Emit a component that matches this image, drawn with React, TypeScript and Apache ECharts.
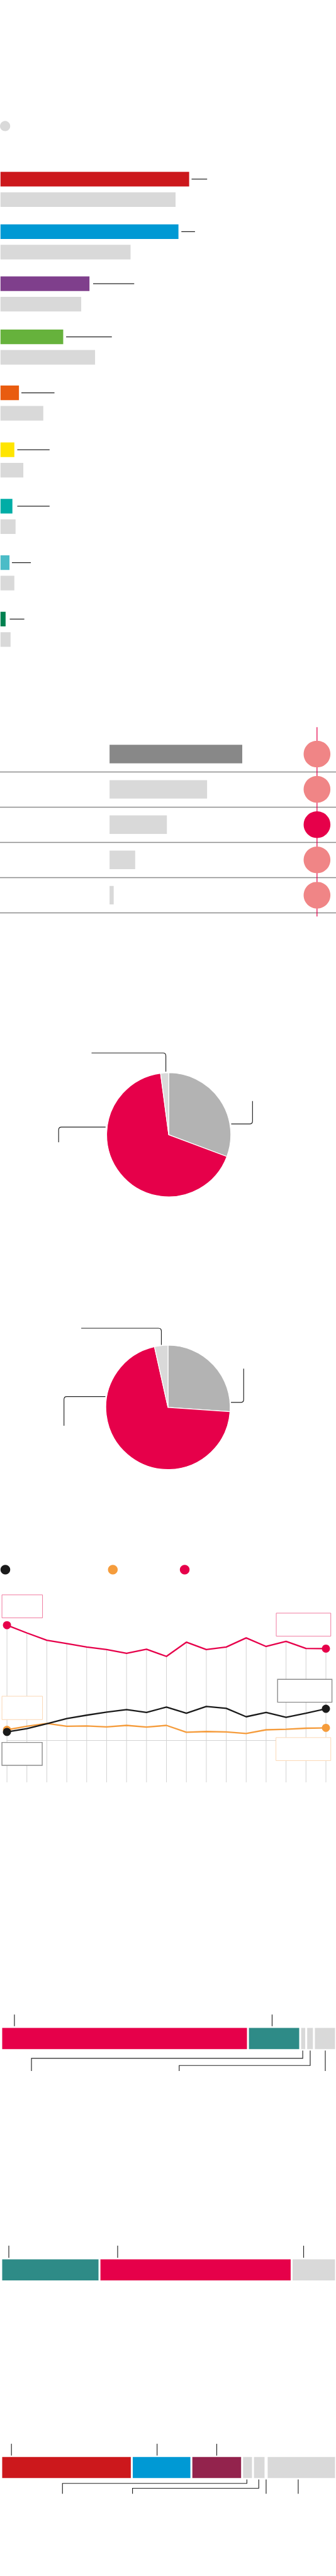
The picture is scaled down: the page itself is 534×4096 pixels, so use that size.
import React, { useEffect, useRef } from 'react';
import * as echarts from 'echarts';

const S = 534 / 690;
const sc = (v: number) => v * S;

// ---------- Section 1: party bars (current vs previous) ----------
const parties = ['Labour', 'Conservative', 'UKIP', 'Green', 'Lib Dem', 'SNP', 'Independent', 'Plaid', 'Other'];
const partyColors = ['#CC181C', '#0099D4', '#7F3F8C', '#66B23C', '#E95C0F', '#FFE500', '#00ADA6', '#4BBCC7', '#008150'];
const shareNow = [38.8, 36.6, 18.3, 12.9, 3.8, 2.85, 2.45, 1.85, 1.05];
const sharePrev = [36.0, 26.75, 16.6, 19.45, 8.8, 4.7, 3.1, 2.85, 2.07];
const noteFrom = [39.3, 37.2, 19.05, 13.5, 4.3, 3.45, 3.45, 2.35, 1.9];
const noteTo = [42.5, 40.0, 27.5, 22.9, 11.1, 10.1, 10.1, 6.25, 4.9];

// ---------- Section 2: table ----------
const tableRows = ['Row 1', 'Row 2', 'Row 3', 'Row 4', 'Row 5'];
const tableValues = [100, 73.5, 43.2, 19.3, 3.1];
const tableDark = [1, 0, 0, 0, 0];
const tableDotFlag = [0, 0, 1, 0, 0];

// ---------- Section 3: pies ----------
const pieNames = ['Grey', 'Crimson', 'Other'];
const pie1Values = [30.7, 67.2, 2.1];
const pie2Values = [26.1, 70.4, 3.5];

// ---------- Section 4: lines ----------
const years = ['1999', '2000', '2001', '2002', '2003', '2004', '2005', '2006', '2007', '2008', '2009', '2010', '2011', '2012', '2013', '2014', '2015'];
const redLine = [59.25, 55.25, 51.5, 49.8, 48.0, 46.7, 44.8, 46.9, 43.2, 50.5, 46.7, 48.0, 52.7, 48.3, 50.9, 47.3, 47.2];
const blackLine = [4.4, 6.1, 8.6, 11.3, 13.0, 14.6, 15.9, 14.4, 17.2, 14.0, 17.5, 16.5, 12.2, 14.4, 11.9, 14.0, 16.3];
const orangeLine = [5.5, 7.3, 8.75, 7.3, 7.5, 7.0, 7.75, 6.9, 7.75, 4.25, 4.6, 4.4, 3.6, 5.5, 5.8, 6.3, 6.5];

// ---------- Section 5: stacked bars ----------
const stack1Values = [73.7, 15.6, 1.8, 2.3, 6.6];
const stack2Values = [29.35, 57.4, 13.25];
const stack3Values = [39.0, 17.8, 15.15, 3.25, 3.75, 0.35, 20.7];

// ---------- styles ----------
const GREY = '#D9D9D9';
const CRIMSON = '#E6004A';
const SALMON = '#F08586';
const INK = '#222222';
const stack1Colors = [CRIMSON, '#2E8B87', GREY, GREY, GREY];
const stack2Colors = ['#2E8B87', CRIMSON, GREY];
const stack3Colors = ['#CC181C', '#0099D4', '#93234D', GREY, GREY, GREY, GREY];
const pieColors = ['#B3B3B3', CRIMSON, GREY];

// layout (original px)
const GROUP_TOPS = [353, 461, 568, 677, 792, 909, 1025, 1141, 1257];

function roundedD(pts: number[][], r: number): string {
  let d = `M${pts[0][0].toFixed(2)} ${pts[0][1].toFixed(2)}`;
  for (let i = 1; i < pts.length - 1; i++) {
    const [x0, y0] = pts[i - 1];
    const [cx, cy] = pts[i];
    const [nx, ny] = pts[i + 1];
    const d1 = Math.hypot(cx - x0, cy - y0);
    const d2 = Math.hypot(nx - cx, ny - cy);
    const rr = Math.min(r, d1 / 2, d2 / 2);
    const ax = cx + ((x0 - cx) / d1) * rr;
    const ay = cy + ((y0 - cy) / d1) * rr;
    const bx = cx + ((nx - cx) / d2) * rr;
    const by = cy + ((ny - cy) / d2) * rr;
    d += ` L${ax.toFixed(2)} ${ay.toFixed(2)} Q${cx.toFixed(2)} ${cy.toFixed(2)} ${bx.toFixed(2)} ${by.toFixed(2)}`;
  }
  const last = pts[pts.length - 1];
  d += ` L${last[0].toFixed(2)} ${last[1].toFixed(2)}`;
  return d;
}

const pieLeaders = [
  [[340.6, 2201.7], [340.6, 2163.3], [188, 2163.3]],
  [[474.8, 2309.3], [518.6, 2309.3], [518.6, 2262.3]],
  [[216.8, 2315.7], [120.4, 2315.7], [120.4, 2346.7]],
  [[331.4, 2763.3], [331.4, 2729], [166.8, 2729]],
  [[474.3, 2881.3], [500.4, 2881.3], [500.4, 2812]],
  [[216.4, 2869.3], [131.4, 2869.3], [131.4, 2929.3]],
];

const stackLeaders = [
  [[29.6, 4139], [29.6, 4163]],
  [[558.8, 4139], [558.8, 4163]],
  [[621.7, 4213], [621.7, 4229], [64.6, 4229], [64.6, 4255]],
  [[637, 4213], [637, 4243.7], [368, 4243.7], [368, 4255]],
  [[668, 4213], [668, 4255]],
  [[18.1, 4614], [18.1, 4638.7]],
  [[241.6, 4614], [241.6, 4638.7]],
  [[623.5, 4614], [623.5, 4638.7]],
  [[23.5, 5021], [23.5, 5045.3]],
  [[322.6, 5021], [322.6, 5045.3]],
  [[445.1, 5021], [445.1, 5045.3]],
  [[507, 5094.3], [507, 5102.3], [128.3, 5102.3], [128.3, 5123.7]],
  [[531.4, 5094.3], [531.4, 5112.3], [272.1, 5112.3], [272.1, 5123.7]],
  [[546.5, 5094.3], [546.5, 5123.7]],
  [[612.4, 5094.3], [612.4, 5123.7]],
];

const lineBoxes = [
  { x: 4, y: 3276.7, w: 83.3, h: 47.3, c: '#F07BA0', lw: 1 },
  { x: 4, y: 3485, w: 83.3, h: 48, c: '#FBD8B6', lw: 1 },
  { x: 4, y: 3580, w: 82.7, h: 47, c: '#8C8C8C', lw: 1.4 },
  { x: 567.3, y: 3314.3, w: 112, h: 47.4, c: '#F07BA0', lw: 1 },
  { x: 570, y: 3450.3, w: 111.7, h: 47, c: '#8C8C8C', lw: 1.4 },
  { x: 566.7, y: 3570, w: 112.6, h: 47.3, c: '#FBD8B6', lw: 1 },
];

function buildOption() {
  const grid: any[] = [];
  const xAxis: any[] = [];
  const yAxis: any[] = [];
  const series: any[] = [];
  const hidden = { show: false };

  const addGrid = (g: any, x: any, y: any) => {
    grid.push(g);
    const gi = grid.length - 1;
    xAxis.push({ ...x, gridIndex: gi });
    yAxis.push({ ...y, gridIndex: gi });
    return { gi, xi: xAxis.length - 1, yi: yAxis.length - 1 };
  };

  // Section 1
  parties.forEach((p, i) => {
    const top = GROUP_TOPS[i];
    const { xi, yi } = addGrid(
      { left: sc(1), top: sc(top - 6), width: sc(690), height: sc(84) },
      { type: 'value', min: 0, max: 69, ...hidden },
      { type: 'category', data: ['now', 'prev'], inverse: true, ...hidden }
    );
    series.push({
      type: 'bar', name: p, xAxisIndex: xi, yAxisIndex: yi, barWidth: sc(30), silent: true,
      data: [
        { value: shareNow[i], itemStyle: { color: partyColors[i] } },
        { value: sharePrev[i], itemStyle: { color: GREY } },
      ],
    });
    series.push({
      type: 'custom', coordinateSystem: 'cartesian2d', xAxisIndex: xi, yAxisIndex: yi, silent: true,
      encode: { x: [0, 2], y: 1 },
      data: [[noteFrom[i], 0, noteTo[i]]],
      renderItem: (params: any, api: any) => {
        const a = api.coord([api.value(0), api.value(1)]);
        const b = api.coord([api.value(2), api.value(1)]);
        return { type: 'line', shape: { x1: a[0], y1: a[1], x2: b[0], y2: b[1] }, style: { stroke: INK, lineWidth: sc(1.6) } };
      },
    });
  });

  // Section 2: table
  const PXU = 2.725;
  const t = addGrid(
    { left: 0, top: sc(1513), width: sc(690), height: sc(362.5) },
    { type: 'value', min: -225 / PXU, max: (690 - 225) / PXU, ...hidden },
    { type: 'category', data: tableRows, inverse: true, ...hidden }
  );
  yAxis.push({
    gridIndex: t.gi, type: 'value', min: 0, max: 5, interval: 1, inverse: true, position: 'left',
    axisLine: { show: false }, axisTick: { show: false }, axisLabel: { show: false },
    splitLine: { show: true, showMinLine: false, lineStyle: { color: '#8C8C8C', width: sc(1.7) } },
  });
  series.push({
    type: 'bar', xAxisIndex: t.xi, yAxisIndex: t.yi, barWidth: sc(38), silent: true,
    data: tableValues.map((v, i) => ({ value: v, itemStyle: { color: tableDark[i] ? '#888888' : GREY } })),
  });
  const d = addGrid(
    { left: sc(624), top: sc(1513), width: sc(54), height: sc(362.5) },
    { type: 'value', min: 0, max: 2, ...hidden },
    { type: 'value', min: -0.5, max: 4.5, inverse: true, ...hidden }
  );
  series.push({
    type: 'custom', coordinateSystem: 'cartesian2d', xAxisIndex: d.xi, yAxisIndex: d.yi, silent: true, z: 2,
    encode: { x: 0, y: [1, 2] },
    data: [[1, -0.762, 4.603]],
    renderItem: (params: any, api: any) => {
      const a = api.coord([api.value(0), api.value(1)]);
      const b = api.coord([api.value(0), api.value(2)]);
      return { type: 'line', shape: { x1: a[0], y1: a[1], x2: b[0], y2: b[1] }, style: { stroke: CRIMSON, lineWidth: sc(1.6) } };
    },
  });
  series.push({
    type: 'scatter', xAxisIndex: d.xi, yAxisIndex: d.yi, symbol: 'circle', symbolSize: sc(55), silent: true, z: 3,
    itemStyle: { opacity: 1 },
    data: tableDotFlag.map((f, i) => ({ value: [1, i], itemStyle: { color: f ? CRIMSON : SALMON, opacity: 1 } })),
  });

  // Section 3: pies
  const pie = (vals: number[], cx: number, cy: number, r: number) => ({
    type: 'pie', center: [sc(cx), sc(cy)], radius: sc(r), startAngle: 90, clockwise: true, silent: true,
    label: { show: false }, labelLine: { show: false },
    itemStyle: { borderColor: '#ffffff', borderWidth: sc(1.6) },
    data: vals.map((v, i) => ({ name: pieNames[i], value: v, itemStyle: { color: pieColors[i] } })),
  });
  series.push(pie(pie1Values, 346.5, 2331.5, 127.5));
  series.push(pie(pie2Values, 345, 2891.5, 127.7));

  // Section 4: lines
  const l = addGrid(
    { left: sc(14.3), top: sc(3336), width: sc(655), height: sc(240) },
    {
      type: 'category', data: years, boundaryGap: false,
      axisLine: { show: true, lineStyle: { color: '#D3D3D3', width: 1 } },
      axisTick: { show: false }, axisLabel: { show: false }, splitLine: { show: false },
    },
    { type: 'value', min: 0, max: 60, ...hidden }
  );
  series.push({
    type: 'custom', coordinateSystem: 'cartesian2d', xAxisIndex: l.xi, yAxisIndex: l.yi, silent: true, z: 1,
    encode: { x: 0, y: 1 },
    data: redLine.map((v, i) => [i, v]),
    renderItem: (params: any, api: any) => {
      const p = api.coord([api.value(0), api.value(1)]);
      const b = api.coord([api.value(0), 0]);
      return { type: 'line', shape: { x1: p[0], y1: p[1], x2: p[0], y2: b[1] + sc(86) }, style: { stroke: '#D3D3D3', lineWidth: 1 } };
    },
  });
  const last = years.length - 1;
  const mkLine = (name: string, vals: number[], color: string, z: number) => ({
    type: 'line', name, xAxisIndex: l.xi, yAxisIndex: l.yi, data: vals, silent: true, z,
    symbol: 'circle', showSymbol: true, showAllSymbol: true,
    symbolSize: (v: any, p: any) => (p.dataIndex === 0 || p.dataIndex === last ? sc(16.7) : 0),
    itemStyle: { color, opacity: 1 }, lineStyle: { color, width: sc(3) },
  });
  series.push(mkLine('Red', redLine, CRIMSON, 3));
  series.push(mkLine('Orange', orangeLine, '#F59C3C', 4));
  series.push(mkLine('Black', blackLine, '#1A1A1A', 5));

  // Section 5: stacked bars
  const stacked = (vals: number[], colors: string[], cy: number, h: number, key: string) => {
    const g = addGrid(
      { left: sc(2.5), top: sc(cy - 30), width: sc(688.5), height: sc(60) },
      { type: 'value', min: 0, max: 100, ...hidden },
      { type: 'category', data: [key], ...hidden }
    );
    vals.forEach((v, k) => {
      series.push({
        type: 'bar', stack: key, xAxisIndex: g.xi, yAxisIndex: g.yi, barWidth: sc(h + 2), silent: true,
        data: [v], itemStyle: { color: colors[k], borderColor: '#ffffff', borderWidth: sc(2) },
      });
    });
  };
  stacked(stack1Values, stack1Colors, 4188.2, 45.7, 's1');
  stacked(stack2Values, stack2Colors, 4663.7, 45.3, 's2');
  stacked(stack3Values, stack3Colors, 5069.7, 45.3, 's3');

  // graphics
  const graphic: any[] = [];
  graphic.push({ type: 'circle', shape: { cx: sc(10.5), cy: sc(259), r: sc(10.5) }, style: { fill: GREY }, silent: true });
  pieLeaders.forEach((pts, k) => {
    const name = `leaderPath${k}`;
    echarts.graphic.registerShape(name, echarts.graphic.extendPath(roundedD(pts.map(([x, y]) => [sc(x), sc(y)]), sc(6)), {}));
    graphic.push({ type: name, x: 0, y: 0, z: 10, silent: true, style: { stroke: INK, lineWidth: sc(1.5), fill: 'none' } });
  });
  stackLeaders.forEach((pts) => {
    graphic.push({
      type: 'polyline', z: 10, silent: true,
      shape: { points: pts.map(([x, y]) => [sc(x), sc(y)]) },
      style: { stroke: INK, lineWidth: sc(1.5), fill: null },
    });
  });
  [[11, '#1A1A1A'], [231.7, '#F59C3C'], [379.3, CRIMSON]].forEach(([x, c]: any) => {
    graphic.push({ type: 'circle', shape: { cx: sc(x), cy: sc(3225), r: sc(10) }, style: { fill: c }, silent: true });
  });
  lineBoxes.forEach((b) => {
    graphic.push({
      type: 'rect', z: 20, silent: true,
      shape: { x: sc(b.x), y: sc(b.y), width: sc(b.w), height: sc(b.h) },
      style: { fill: '#ffffff', stroke: b.c, lineWidth: b.lw },
    });
  });

  return { animation: false, grid, xAxis, yAxis, series, graphic };
}

export default function App() {
  const ref = useRef<HTMLDivElement>(null);
  useEffect(() => {
    document.body.style.margin = '0';
    if (!ref.current) return;
    const chart = echarts.init(ref.current, undefined, { renderer: 'svg' });
    chart.setOption(buildOption() as any);
    return () => chart.dispose();
  }, []);
  return <div ref={ref} style={{ width: 534, height: 4096, background: '#ffffff' }} />;
}
